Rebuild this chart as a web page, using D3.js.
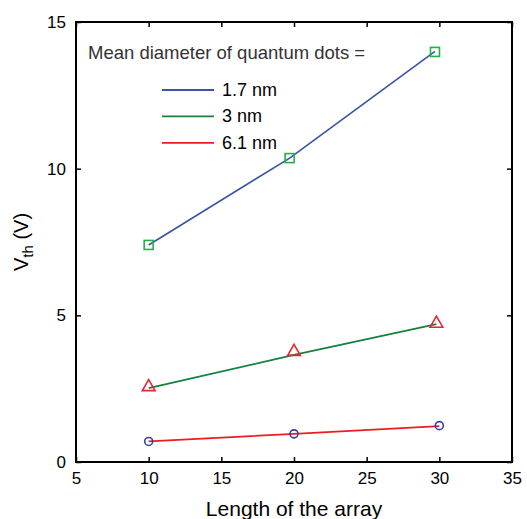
<!doctype html>
<html>
<head>
<meta charset="utf-8">
<script src="https://cdn.jsdelivr.net/npm/d3@7"></script>
<style>
  body { margin: 0; background: #fff; }
  text { font-family: "Liberation Sans", Arial, sans-serif; }
</style>
</head>
<body>
<svg width="527" height="519"></svg>
<script>
// data
var xTicks = [5, 10, 15, 20, 25, 30, 35];
var yTicks = [0, 5, 10, 15];
var seriesNames = ["1.7 nm", "3 nm", "6.1 nm"];
var lineColors = ["#3b55a4", "#14813c", "#ec1c24"];

// lines
var lineX = [[10, 19.7, 29.7], [10, 20, 29.8], [10, 20, 30]];
var lineY = [[7.4, 10.36, 14.0], [2.52, 3.65, 4.7], [0.70, 0.96, 1.22]];

// markers
var squareX = [10, 19.7, 29.7];
var squareY = [7.4, 10.36, 13.98];
var triangleX = [10, 20, 29.8];
var triangleY = [2.56, 3.76, 4.72];
var circleX = [10, 20, 30];
var circleY = [0.70, 0.96, 1.24];

var svg = d3.select("svg");
var pLeft = 76, pRight = 512, pTop = 22, pBottom = 462;

var x = d3.scaleLinear().domain([5, 35]).range([pLeft, pRight]);
var y = d3.scaleLinear().domain([0, 15]).range([pBottom, pTop]);

// axes with inward ticks
svg.append("g")
   .attr("transform", "translate(0," + pBottom + ")")
   .call(d3.axisBottom(x).tickValues(xTicks).tickSizeInner(-5).tickSizeOuter(0).tickPadding(10))
   .call(function(g) { g.select(".domain").remove(); })
   .selectAll("text").attr("font-size", 17).attr("fill", "#000");

svg.append("g")
   .attr("transform", "translate(" + pLeft + ",0)")
   .call(d3.axisLeft(y).tickValues(yTicks).tickSizeInner(-5).tickSizeOuter(0).tickPadding(10))
   .call(function(g) { g.select(".domain").remove(); })
   .selectAll("text").attr("font-size", 17).attr("fill", "#000");

svg.append("g")
   .attr("transform", "translate(0," + pTop + ")")
   .call(d3.axisTop(x).tickValues(xTicks).tickSizeInner(-5).tickSizeOuter(0).tickFormat(""))
   .call(function(g) { g.select(".domain").remove(); });

svg.append("g")
   .attr("transform", "translate(" + pRight + ",0)")
   .call(d3.axisRight(y).tickValues(yTicks).tickSizeInner(-5).tickSizeOuter(0).tickFormat(""))
   .call(function(g) { g.select(".domain").remove(); });

svg.selectAll(".tick line").attr("stroke", "#000").attr("stroke-width", 1.5);

// frame
svg.append("rect")
   .attr("x", pLeft).attr("y", pTop)
   .attr("width", pRight - pLeft).attr("height", pBottom - pTop)
   .attr("fill", "none").attr("stroke", "#000").attr("stroke-width", 2);

// lines
var line = d3.line()
    .x(function(d) { return x(d[0]); })
    .y(function(d) { return y(d[1]); });

lineX.forEach(function(xs, i) {
    svg.append("path")
       .datum(d3.zip(xs, lineY[i]))
       .attr("d", line)
       .attr("fill", "none")
       .attr("stroke", lineColors[i])
       .attr("stroke-width", 1.7);
});

// markers
svg.selectAll(".sq")
   .data(d3.zip(squareX, squareY))
   .enter().append("rect")
   .attr("x", function(d) { return x(d[0]) - 4.5; })
   .attr("y", function(d) { return y(d[1]) - 4.5; })
   .attr("width", 9).attr("height", 9)
   .attr("fill", "none").attr("stroke", "#22b04b").attr("stroke-width", 1.6);

var tri = d3.symbol().type(d3.symbolTriangle).size(70);
svg.selectAll(".tri")
   .data(d3.zip(triangleX, triangleY))
   .enter().append("path")
   .attr("d", tri)
   .attr("transform", function(d) { return "translate(" + x(d[0]) + "," + y(d[1]) + ")"; })
   .attr("fill", "none").attr("stroke", "#ec2330").attr("stroke-width", 1.6);

svg.selectAll(".circ")
   .data(d3.zip(circleX, circleY))
   .enter().append("circle")
   .attr("cx", function(d) { return x(d[0]); })
   .attr("cy", function(d) { return y(d[1]); })
   .attr("r", 4)
   .attr("fill", "none").attr("stroke", "#3a3f9e").attr("stroke-width", 1.6);

// legend
svg.append("text")
   .attr("x", 88).attr("y", 59)
   .attr("font-size", 18.5).attr("fill", "#333")
   .text("Mean diameter of quantum dots =");

seriesNames.forEach(function(name, i) {
    var ly = 90 + i * 26.4;
    svg.append("line")
       .attr("x1", 162).attr("x2", 214)
       .attr("y1", ly).attr("y2", ly)
       .attr("stroke", lineColors[i]).attr("stroke-width", 1.8);
    svg.append("text")
       .attr("x", 222).attr("y", ly + 6)
       .attr("font-size", 18).attr("fill", "#000")
       .text(name);
});

// axis titles
svg.append("text")
   .attr("x", x(20)).attr("y", 516)
   .attr("text-anchor", "middle")
   .attr("font-size", 21)
   .text("Length of the array");

var yl = svg.append("text")
   .attr("transform", "translate(28," + 242 + ") rotate(-90)")
   .attr("text-anchor", "middle")
   .attr("font-size", 20);
yl.append("tspan").text("V");
yl.append("tspan").attr("font-size", 15).attr("dy", 5).text("th");
yl.append("tspan").attr("dy", -5).text(" (V)");
</script>
</body>
</html>
